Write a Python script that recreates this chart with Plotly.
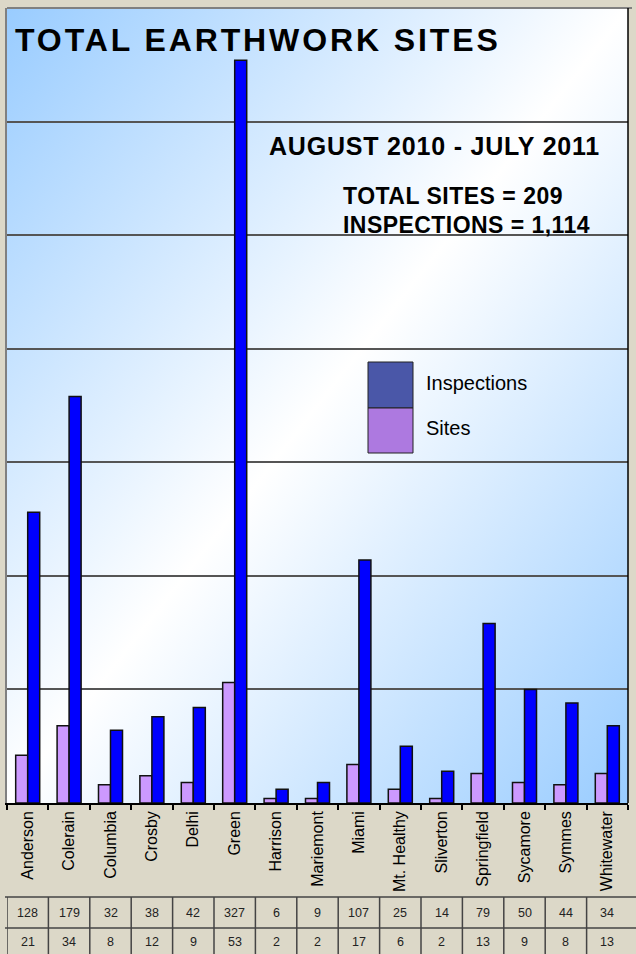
import base64
import plotly.graph_objects as go

categories = ["Anderson", "Colerain", "Columbia", "Crosby", "Delhi", "Green", "Harrison",
              "Mariemont", "Miami", "Mt. Healthy", "Sliverton", "Springfield", "Sycamore",
              "Symmes", "Whitewater"]
inspections = [128, 179, 32, 38, 42, 327, 6, 9, 107, 25, 14, 79, 50, 44, 34]
sites = [21, 34, 8, 12, 9, 53, 2, 2, 17, 6, 2, 13, 9, 8, 13]

title = "TOTAL EARTHWORK SITES"
subtitle = "AUGUST 2010 - JULY 2011"
total_sites_text = "TOTAL SITES = {:,}".format(sum(sites))
total_insp_text = "INSPECTIONS = {:,}".format(sum(inspections))

FONT = "Liberation Sans, Arial, sans-serif"
W, H = 636, 954
L, R, T, B = 7, 8, 8, 151
PH = H - T - B


def py(p):  # pixel row -> paper y
    return (H - B - p) / PH


def px(p):  # pixel col -> paper x
    return (p - L) / (W - L - R)


svg = ('<svg xmlns="http://www.w3.org/2000/svg" width="100" height="100" preserveAspectRatio="none">'
       '<defs><linearGradient id="g" x1="0" y1="0" x2="1" y2="1">'
       '<stop offset="0" stop-color="#99CCFF"/><stop offset="0.5" stop-color="#FFFFFF"/>'
       '<stop offset="1" stop-color="#99CCFF"/></linearGradient></defs>'
       '<rect width="100" height="100" fill="url(#g)"/></svg>')
src = "data:image/svg+xml;base64," + base64.b64encode(svg.encode()).decode()

fig = go.Figure()
fig.add_trace(go.Bar(x=categories, y=sites, name="Sites",
                     marker=dict(color="#CC99FF", line=dict(color="#111111", width=1.5))))
fig.add_trace(go.Bar(x=categories, y=inspections, name="Inspections",
                     marker=dict(color="#0000FF", line=dict(color="#111111", width=1.5))))

shapes = []
annotations = []

# plot border lines
shapes.append(dict(type="line", xref="paper", yref="paper", x0=0, x1=px(632), y0=1, y1=1,
                   line=dict(color="#808080", width=2)))
shapes.append(dict(type="line", xref="paper", yref="paper", x0=1, x1=1, y0=0, y1=1,
                   line=dict(color="#000000", width=1.5)))


def spaced(text, ls):
    return '<b><span style="letter-spacing:%spx">%s</span></b>' % (ls, text)


# text
annotations.append(dict(xref="paper", yref="paper", x=px(13), y=py(40), xanchor="left", yanchor="middle",
                        text=spaced(title, 2.9), showarrow=False,
                        font=dict(family=FONT, size=32, color="#000000")))
annotations.append(dict(xref="paper", yref="paper", x=px(267), y=py(146), xanchor="left", yanchor="middle",
                        text=spaced(subtitle, 0.8), showarrow=False,
                        font=dict(family=FONT, size=25, color="#000000")))
annotations.append(dict(xref="paper", yref="paper", x=px(341), y=py(196), xanchor="left", yanchor="middle",
                        text=spaced(total_sites_text, 0.5), showarrow=False,
                        font=dict(family=FONT, size=23, color="#000000")))
annotations.append(dict(xref="paper", yref="paper", x=px(341), y=py(225), xanchor="left", yanchor="middle",
                        text=spaced(total_insp_text, 0.45), showarrow=False,
                        font=dict(family=FONT, size=23, color="#000000")))

# custom legend
legend_items = [("Inspections", "#4A57A8", 362, 408, 383), ("Sites", "#AD79E0", 408, 453, 428)]
for name, col, top, bot, ty in legend_items:
    shapes.append(dict(type="rect", xref="paper", yref="paper", x0=px(368), x1=px(413),
                       y0=py(bot), y1=py(top), fillcolor=col, line=dict(color="#222222", width=1)))
    annotations.append(dict(xref="paper", yref="paper", x=px(424), y=py(ty), xanchor="left",
                            yanchor="middle", text=name, showarrow=False,
                            font=dict(family=FONT, size=20, color="#000000")))

# data table under the chart
row_lines = [897, 928]
for r in row_lines:
    shapes.append(dict(type="line", xref="paper", yref="paper", x0=px(5), x1=px(640), y0=py(r), y1=py(r),
                       line=dict(color="#444444", width=1.5)))
for i in range(len(categories)):
    shapes.append(dict(type="line", xref="x", yref="paper", x0=i - 0.5, x1=i - 0.5,
                       y0=py(897), y1=py(958), line=dict(color="#444444", width=1.5)))
for row, vals, yc in [(0, inspections, 912.5), (1, sites, 941.5)]:
    for i, v in enumerate(vals):
        annotations.append(dict(xref="x", yref="paper", x=i, y=py(yc), text=str(v), showarrow=False,
                                xanchor="center", yanchor="middle",
                                font=dict(family=FONT, size=12.5, color="#222222")))

fig.update_layout(
    width=W, height=H,
    margin=dict(l=L, r=R, t=T, b=B),
    paper_bgcolor="#DCD8C8",
    plot_bgcolor="rgba(0,0,0,0)",
    barmode="group", bargap=0.42, bargroupgap=0,
    showlegend=False,
    shapes=shapes,
    annotations=annotations,
    images=[dict(source=src, xref="paper", yref="paper", x=0, y=1, sizex=1, sizey=1,
                 xanchor="left", yanchor="top", sizing="stretch", layer="below")],
    xaxis=dict(type="category", tickson="boundaries", ticks="outside", ticklen=5, tickcolor="#000000",
               tickwidth=1.5, showline=True, linecolor="#000000", linewidth=1.5, tickangle=-90,
               tickfont=dict(family=FONT, size=16, color="#000000"), showgrid=False,
               range=[-0.5, len(categories) - 0.5]),
    yaxis=dict(range=[0, 350], dtick=50, showticklabels=False, showgrid=True, gridcolor="#555555",
               gridwidth=1.5, zeroline=False, showline=True, linecolor="#808080", linewidth=2, ticks=""),
)

fig.write_html("out.html", config={"displayModeBar": False},
               post_script="document.body.style.margin='0';document.body.style.overflow='hidden';")
